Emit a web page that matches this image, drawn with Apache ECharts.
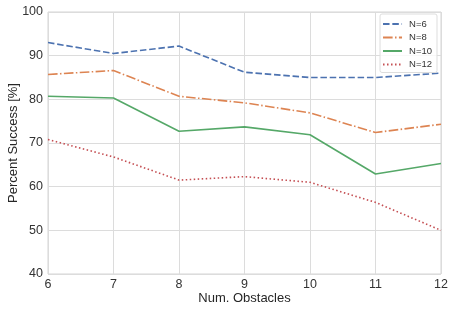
<!DOCTYPE html>
<html><head><meta charset="utf-8">
<script src="https://cdn.jsdelivr.net/npm/echarts@6/dist/echarts.min.js"></script>
<style>html,body{margin:0;padding:0;background:#fff}#c{width:455px;height:313px}</style>
</head><body><div id="c"></div>
<script>
const categories = [6, 7, 8, 9, 10, 11, 12];
const seriesNames = ['N=6', 'N=8', 'N=10', 'N=12'];
const n6 = [93.0, 90.5, 92.2, 86.2, 85.0, 85.0, 86.0];
const n8 = [85.7, 86.6, 80.7, 79.2, 76.9, 72.4, 74.3];
const n10 = [80.7, 80.3, 72.7, 73.7, 71.9, 62.9, 65.3];
const n12 = [70.8, 66.8, 61.5, 62.3, 61.0, 56.4, 50.0];
const yTicks = [40, 50, 60, 70, 80, 90, 100];

const values = [n6, n8, n10, n12];
const colors = ['#4C72B0', '#DD8452', '#55A868', '#C44E52'];
const dashes = [[6.5, 2.8], [9.6, 2.4, 1.5, 2.4], 'solid', [1.5, 2.5]];

const chart = echarts.init(document.getElementById('c'), null, {renderer: 'canvas'});
const font = 'Liberation Sans';
chart.setOption({
  animation: false,
  grid: {left: 48, right: 14, top: 12, bottom: 39, containLabel: false, outerBoundsMode: 'none', show: true, borderColor: '#d5d5d5', borderWidth: 1},
  legend: {
    right: 18, top: 14, orient: 'vertical', itemWidth: 19, itemHeight: 8, itemGap: 3.5,
    backgroundColor: 'rgba(255,255,255,0.8)', borderColor: '#dddddd', borderWidth: 1, borderRadius: 2,
    padding: [5, 5, 3, 2],
    itemStyle: {color: 'rgba(0,0,0,0)', borderColor: 'rgba(0,0,0,0)', borderWidth: 0},
    textStyle: {fontFamily: font, fontSize: 9.5, color: '#333', padding: [0, 0, 0, 2]},
    data: seriesNames
  },
  xAxis: {
    type: 'value', min: 6, max: 12, interval: 1,
    name: 'Num. Obstacles', nameLocation: 'middle', nameGap: 18, nameMoveOverlap: false,
    nameTextStyle: {fontFamily: font, fontSize: 13, color: '#262626'},
    axisLine: {show: false}, axisTick: {show: false},
    axisLabel: {fontFamily: font, fontSize: 12.5, color: '#333', margin: 4},
    splitLine: {show: true, lineStyle: {color: '#dcdcdc', width: 1}}
  },
  yAxis: {
    type: 'value', min: 40, max: 100, interval: 10,
    name: 'Percent Success [%]', nameLocation: 'middle', nameGap: 28, nameMoveOverlap: false,
    nameTextStyle: {fontFamily: font, fontSize: 13, color: '#262626'},
    axisLine: {show: false}, axisTick: {show: false},
    axisLabel: {fontFamily: font, fontSize: 12.5, color: '#333', margin: 5},
    splitLine: {show: true, lineStyle: {color: '#dcdcdc', width: 1}}
  },
  series: seriesNames.map((name, i) => ({
    name: name, type: 'line', symbol: 'none',
    data: categories.map((c, j) => [c, values[i][j]]),
    lineStyle: {color: colors[i], width: 1.6, type: dashes[i]},
    itemStyle: {color: colors[i]}
  }))
});
</script></body></html>
